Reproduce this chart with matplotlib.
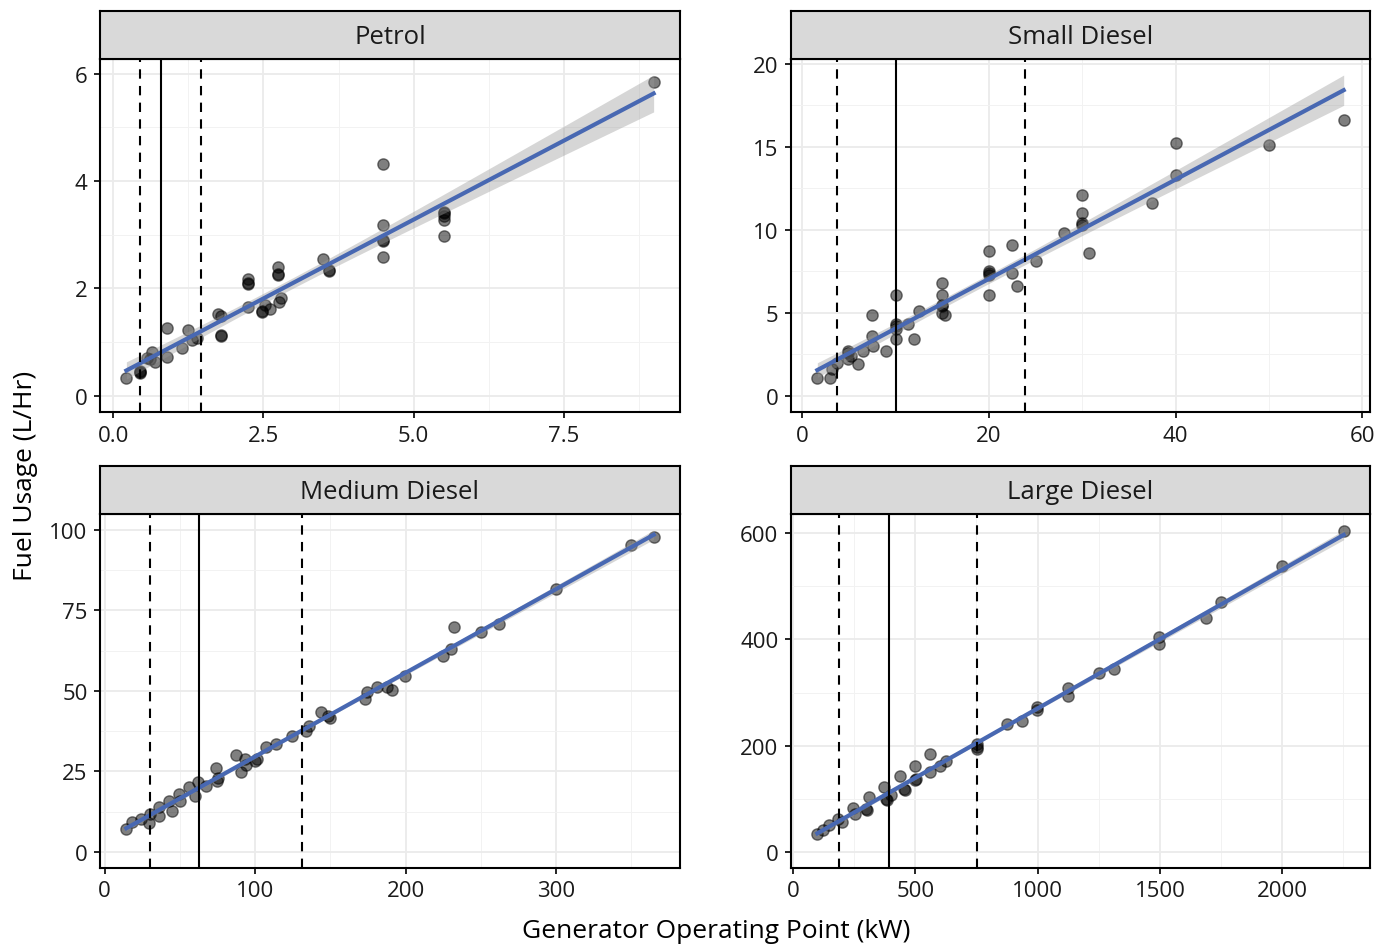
import numpy as np
import matplotlib
matplotlib.use("Agg")
import matplotlib.pyplot as plt
from matplotlib.ticker import AutoMinorLocator

plt.rcParams['font.family'] = ['Open Sans', 'DejaVu Sans']

# DATOS
petrol_kw = [0.22, 0.44, 0.44, 0.44, 0.57, 0.65, 0.70, 0.62, 0.89, 0.89, 1.15, 1.24, 1.32, 1.40,
             1.74, 1.79, 1.79, 1.79, 2.24, 2.24, 2.24, 2.24, 2.48, 2.48, 2.53, 2.61, 2.74, 2.74,
             2.74, 2.76, 2.80, 3.49, 3.59, 3.59, 4.49, 4.49, 4.49, 4.49, 4.49, 5.50, 5.50, 5.50,
             5.50, 5.50, 8.99]
petrol_lhr = [0.33, 0.44, 0.46, 0.42, 0.71, 0.81, 0.63, 0.68, 1.27, 0.72, 0.89, 1.23, 1.04, 1.07,
              1.52, 1.49, 1.14, 1.12, 2.18, 2.09, 2.11, 1.66, 1.57, 1.59, 1.69, 1.62, 2.40, 2.25,
              2.27, 1.75, 1.82, 2.55, 2.32, 2.34, 4.31, 3.18, 2.89, 2.91, 2.58, 3.41, 3.43, 3.35,
              3.27, 2.98, 5.85]

small_kw = [1.6, 3.0, 3.2, 3.7, 4.9, 4.9, 4.9, 5.2, 6.0, 6.5, 7.5, 7.5, 7.6, 9.0, 10.0, 10.0,
            10.0, 10.0, 10.0, 11.3, 12.0, 12.5, 15.0, 15.0, 15.0, 15.0, 15.0, 15.3, 20.0, 20.0,
            20.0, 20.0, 20.0, 22.5, 22.5, 23.0, 25.0, 28.0, 30.0, 30.0, 30.0, 30.0, 30.7, 37.5,
            40.0, 40.0, 50.0, 58.0]
small_lhr = [1.1, 1.1, 1.6, 2.0, 2.7, 2.6, 2.2, 2.4, 1.9, 2.7, 4.9, 3.6, 3.0, 2.7, 6.1, 4.3,
             4.2, 4.0, 3.4, 4.3, 3.4, 5.1, 6.8, 6.1, 5.5, 5.4, 5.0, 4.9, 8.7, 7.5,
             7.4, 7.3, 6.1, 9.1, 7.4, 6.6, 8.1, 9.8, 12.1, 11.0, 10.4, 10.3, 8.6, 11.6,
             15.2, 13.3, 15.1, 16.6]

medium_kw = [14.4, 18.1, 24.3, 29.2, 30.4, 36.1, 36.1, 42.7, 44.7, 49.4, 50.1, 56.3, 60.0, 61.7,
             67.3, 74.2, 74.7, 75.5, 87.0, 90.7, 93.2, 93.7, 100.0, 101.0, 107.4, 114.1, 124.7,
             133.8, 135.5, 144.1, 150.0, 148.5, 172.7, 174.4, 181.3, 187.9, 190.9, 199.8, 225.1,
             230.0, 232.2, 250.0, 262.3, 300.0, 349.9, 364.9]
medium_lhr = [7.0, 9.3, 10.3, 8.9, 11.8, 13.9, 11.3, 15.7, 12.8, 18.0, 15.7, 20.2, 17.5, 21.6,
              20.6, 26.0, 22.1, 22.8, 30.1, 24.7, 28.8, 27.0, 28.3, 29.0, 32.7, 33.6, 36.0,
              37.5, 39.1, 43.5, 41.6, 42.3, 47.5, 49.8, 51.2, 51.1, 50.4, 54.5, 60.9,
              62.9, 69.7, 68.3, 70.9, 81.7, 95.3, 97.9]

large_kw = [100, 122, 149, 184, 202, 247, 252, 300, 305, 312, 373, 379, 385, 403, 436, 455, 460,
            501, 501, 505, 562, 562, 600, 625, 751, 751, 751, 875, 935, 999, 999, 1124, 1124,
            1250, 1313, 1498, 1498, 1688, 1749, 1998, 2251]
large_lhr = [34, 42, 50, 62, 56, 83, 72, 81, 79, 103, 122, 100, 98, 107, 142, 118, 116,
             162, 136, 138, 184, 150, 162, 171, 203, 194, 198, 240, 246, 272, 268, 308, 294,
             336, 344, 404, 391, 441, 470, 538, 604]

# lineas verticales: (discontinua, continua, discontinua)
petrol_vl = [0.44, 0.80, 1.46]
small_vl = [3.7, 10.0, 23.8]
medium_vl = [30, 63, 131]
large_vl = [187, 391, 751]

titulos = ["Petrol", "Small Diesel", "Medium Diesel", "Large Diesel"]
datos = [(petrol_kw, petrol_lhr, petrol_vl), (small_kw, small_lhr, small_vl),
         (medium_kw, medium_lhr, medium_vl), (large_kw, large_lhr, large_vl)]
xticks = [[0, 2.5, 5, 7.5], [0, 20, 40, 60], [0, 100, 200, 300], [0, 500, 1000, 1500, 2000]]
xlabels = [["0.0", "2.5", "5.0", "7.5"], None, None, None]
yticks = [[0, 2, 4, 6], [0, 5, 10, 15, 20], [0, 25, 50, 75, 100], [0, 200, 400, 600]]

W, H = 1394, 945
cajas = [(100, 60, 680, 413), (791, 60, 1370, 413), (100, 515, 680, 869), (791, 515, 1370, 869)]
strip_h = 48

fig = plt.figure(figsize=(W/100, H/100), dpi=100)

for i in range(4):
    x0, y0, x1, y1 = cajas[i]
    x = np.array(datos[i][0], float)
    y = np.array(datos[i][1], float)
    vl = datos[i][2]

    ax = fig.add_axes([x0/W, 1-y1/H, (x1-x0)/W, (y1-y0)/H])
    st = fig.add_axes([x0/W, 1-y0/H, (x1-x0)/W, strip_h/H])
    st.set_facecolor("#D9D9D9")
    st.set_xticks([])
    st.set_yticks([])
    for s in st.spines.values():
        s.set_linewidth(1.5)
    st.text(0.5, 0.46, titulos[i], ha="center", va="center", fontsize=18.5, color="#1A1A1A",
            transform=st.transAxes)

    # ajuste lineal + intervalo de confianza
    n = len(x)
    b, a = np.polyfit(x, y, 1)
    xs = np.linspace(x.min(), x.max(), 80)
    yh = a + b*xs
    res = y - (a + b*x)
    s2 = np.sum(res**2)/(n-2)
    sxx = np.sum((x - x.mean())**2)
    se = np.sqrt(s2*(1.0/n + (xs - x.mean())**2/sxx))
    lo = yh - 2.01*se
    hi = yh + 2.01*se

    ax.scatter(x, y, s=66, facecolor=(0, 0, 0, 0.5), edgecolor=(0, 0, 0, 0.5), linewidth=1.0, zorder=3)
    ax.fill_between(xs, lo, hi, color="#999999", alpha=0.4, linewidth=0, zorder=4)
    ax.plot(xs, yh, color="#4868B2", linewidth=3.0, zorder=5)
    ax.axvline(vl[0], color="black", linestyle=(0, (4.5, 3.5)), linewidth=1.5, zorder=6)
    ax.axvline(vl[1], color="black", linestyle="-", linewidth=1.5, zorder=6)
    ax.axvline(vl[2], color="black", linestyle=(0, (4.5, 3.5)), linewidth=1.5, zorder=6)

    # limites estilo ggplot (5%)
    rx = x.max() - x.min()
    ax.set_xlim(x.min() - 0.05*rx, x.max() + 0.05*rx)
    ylo = min(0, y.min(), lo.min())
    yhi = max(y.max(), hi.max())
    ry = yhi - ylo
    ax.set_ylim(ylo - 0.05*ry, yhi + 0.05*ry)

    ax.set_xticks(xticks[i])
    if xlabels[i] is not None:
        ax.set_xticklabels(xlabels[i])
    ax.set_yticks(yticks[i])
    ax.xaxis.set_minor_locator(AutoMinorLocator(2))
    ax.yaxis.set_minor_locator(AutoMinorLocator(2))
    ax.grid(True, which="major", color="#EBEBEB", linewidth=1.3, zorder=0)
    ax.grid(True, which="minor", color="#F2F2F2", linewidth=0.7, zorder=0)
    ax.set_axisbelow(True)
    ax.tick_params(which="major", length=4, width=1.2, color="black", labelsize=16,
                   labelcolor="#1A1A1A", pad=5)
    ax.tick_params(which="minor", length=0)
    for s in ax.spines.values():
        s.set_linewidth(1.5)

fig.text(0.514, 0.014, "Generator Operating Point (kW)", ha="center", va="center", fontsize=19)
fig.text(0.018, 0.496, "Fuel Usage (L/Hr)", ha="center", va="center", rotation=90, fontsize=19)

plt.savefig("out.png", dpi=100)
